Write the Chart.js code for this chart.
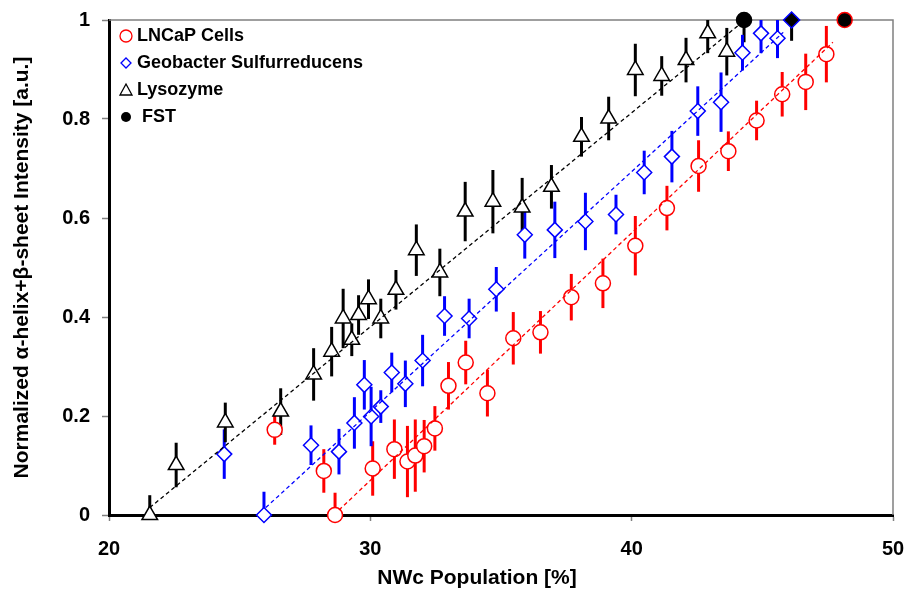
<!DOCTYPE html>
<html lang="en">
<head>
<meta charset="UTF-8">
<title>NWc population vs normalized intensity</title>
<script src="https://cdn.jsdelivr.net/npm/chart.js@4.4.1/dist/chart.umd.min.js"></script>
<style>
  body { margin: 0; background: #fff; }
</style>
</head>
<body>
<canvas id="chart" width="907" height="589"></canvas>
<script>
// values
const lncapX = [26.34, 28.22, 28.65, 30.09, 30.92, 31.42, 31.72, 32.06, 32.47, 32.99, 33.65, 34.48,
                35.47, 36.51, 37.69, 38.9, 40.14, 41.35, 42.56, 43.7, 44.78, 45.76, 46.66, 47.45];
const lncapY = [0.172, 0.089, 0, 0.094, 0.133, 0.108, 0.12, 0.139, 0.175, 0.261, 0.308, 0.246,
                0.357, 0.369, 0.44, 0.468, 0.544, 0.62, 0.705, 0.735, 0.797, 0.85, 0.875, 0.931];
const lncapErr = [0.03, 0.044, 0.045, 0.055, 0.06, 0.072, 0.073, 0.053, 0.045, 0.048, 0.044, 0.047,
                  0.053, 0.043, 0.047, 0.05, 0.06, 0.045, 0.052, 0.04, 0.04, 0.045, 0.057, 0.057];

const geoX = [24.41, 25.93, 27.73, 28.8, 29.39, 29.77, 30.03, 30.4, 30.82, 31.34, 32.0, 32.84, 33.78,
              34.82, 35.91, 37.06, 38.23, 39.4, 40.48, 41.54, 42.53, 43.42, 44.24, 44.95, 45.58];
const geoY = [0.123, 0, 0.141, 0.128, 0.186, 0.263, 0.199, 0.219, 0.288, 0.265, 0.312, 0.402, 0.397,
              0.456, 0.566, 0.576, 0.593, 0.607, 0.692, 0.724, 0.816, 0.834, 0.934, 0.973, 0.963];
const geoErr = [0.05, 0.047, 0.04, 0.046, 0.052, 0.05, 0.06, 0.033, 0.04, 0.047, 0.052, 0.04, 0.04,
                0.045, 0.048, 0.057, 0.058, 0.04, 0.044, 0.052, 0.05, 0.06, 0.036, 0.04, 0.04];

const lysoX = [21.56, 22.57, 24.45, 26.57, 27.83, 28.52, 28.96, 29.29, 29.55, 29.93, 30.4, 30.98, 31.76,
               32.66, 33.63, 34.69, 35.81, 36.93, 38.08, 39.12, 40.14, 41.15, 42.08, 42.91, 43.64];
const lysoY = [0, 0.101, 0.187, 0.209, 0.284, 0.33, 0.397, 0.354, 0.404, 0.436, 0.397, 0.455, 0.535,
               0.49, 0.613, 0.633, 0.621, 0.663, 0.764, 0.801, 0.899, 0.887, 0.919, 0.973, 0.936];
const lysoErr = [0.04, 0.045, 0.04, 0.047, 0.053, 0.05, 0.06, 0.033, 0.04, 0.04, 0.04, 0.04, 0.052,
                 0.048, 0.06, 0.064, 0.06, 0.044, 0.04, 0.044, 0.053, 0.04, 0.045, 0.04, 0.048];

// FST points: lysozyme, geobacter, LNCaP
const fstX = [44.3, 46.12, 48.15];
const fstY = [1, 1, 1];
const fstErr = [0.045, 0.042, 0];

// dashed fit lines (start, end)
const lysoFitX = [21.56, 44.1];
const lysoFitY = [0.015, 0.99];
const geoFitX = [26.0, 45.8];
const geoFitY = [0.015, 0.975];
const lncapFitX = [28.8, 47.7];
const lncapFitY = [0.01, 0.955];

const xTicks = [20, 30, 40, 50];
const yTicks = [0, 0.2, 0.4, 0.6, 0.8, 1];

const xTitle = 'NWc Population [%]';
const yTitle = 'Normalized \u03b1-helix+\u03b2-sheet Intensity [a.u.]';

const FONT = "'Liberation Sans', Arial, sans-serif";

function pts(xs, ys) {
    return xs.map((x, i) => ({x: x, y: ys[i]}));
}

// vertical error bars, drawn under the markers, cut at the plot frame
const errorBars = {
    id: 'errorBars',
    beforeDatasetsDraw(chart) {
        const ctx = chart.ctx;
        const a = chart.chartArea;
        const xs = chart.scales.x, ys = chart.scales.y;
        // grey frame on top and right
        ctx.save();
        ctx.strokeStyle = '#808080';
        ctx.lineWidth = 1.5;
        ctx.beginPath();
        ctx.moveTo(a.left, a.top);
        ctx.lineTo(a.right, a.top);
        ctx.lineTo(a.right, a.bottom);
        ctx.stroke();
        ctx.restore();

        ctx.save();
        ctx.beginPath();
        ctx.rect(a.left, a.top, a.right - a.left, a.bottom - a.top);
        ctx.clip();
        chart.data.datasets.forEach(ds => {
            if (!ds.errors) return;
            ctx.strokeStyle = ds.errColor;
            ctx.lineWidth = 3;
            ds.data.forEach((p, i) => {
                const e = ds.errors[i];
                if (!e) return;
                const px = xs.getPixelForValue(p.x);
                ctx.beginPath();
                ctx.moveTo(px, ys.getPixelForValue(p.y - e));
                ctx.lineTo(px, ys.getPixelForValue(p.y + e));
                ctx.stroke();
            });
        });
        ctx.restore();
    }
};

const legendBox = {
    id: 'legendBox',
    afterDraw(chart) {
        const ctx = chart.ctx;
        const a = chart.chartArea;
        const sx = a.left + 17;
        const rows = [16, 43, 70, 97];
        ctx.save();
        ctx.lineWidth = 1.3;
        // circle
        ctx.strokeStyle = '#ff0000';
        ctx.beginPath();
        ctx.arc(sx, a.top + rows[0], 6, 0, Math.PI * 2);
        ctx.stroke();
        // diamond
        ctx.strokeStyle = '#0000ff';
        ctx.beginPath();
        let y = a.top + rows[1];
        ctx.moveTo(sx - 5, y); ctx.lineTo(sx, y - 5); ctx.lineTo(sx + 5, y); ctx.lineTo(sx, y + 5);
        ctx.closePath();
        ctx.stroke();
        // triangle
        ctx.strokeStyle = '#000';
        y = a.top + rows[2];
        ctx.beginPath();
        ctx.moveTo(sx, y - 6); ctx.lineTo(sx + 6, y + 5); ctx.lineTo(sx - 6, y + 5);
        ctx.closePath();
        ctx.stroke();
        // filled circle
        ctx.fillStyle = '#000';
        ctx.beginPath();
        ctx.arc(sx, a.top + rows[3], 5, 0, Math.PI * 2);
        ctx.fill();

        ctx.font = 'bold 18px ' + FONT;
        ctx.textBaseline = 'middle';
        ctx.fillStyle = '#000';
        ctx.fillText('LNCaP Cells', sx + 11, a.top + rows[0]);
        ctx.fillText('Geobacter Sulfurreducens', sx + 11, a.top + rows[1]);
        ctx.fillText('Lysozyme', sx + 11, a.top + rows[2]);
        ctx.fillText('FST', sx + 16, a.top + rows[3]);

        // x axis title sits a bit left of the plot centre in the original
        ctx.font = 'bold 21px ' + FONT;
        ctx.textAlign = 'center';
        ctx.fillText(xTitle, (a.left + a.right) / 2 - 24, 578);
        ctx.restore();
    }
};

const markerBase = {pointBorderWidth: 1.5, pointBackgroundColor: '#fff', showLine: false, clip: false, order: 1};
const fitBase = {showLine: true, pointRadius: 0, borderWidth: 1.3, borderDash: [4, 3], tension: 0, order: 0, fill: false};

new Chart(document.getElementById('chart'), {
    type: 'scatter',
    data: {
        datasets: [
            Object.assign({label: 'LNCaP fit', data: pts(lncapFitX, lncapFitY), borderColor: '#ff0000'}, fitBase),
            Object.assign({label: 'Geobacter fit', data: pts(geoFitX, geoFitY), borderColor: '#0000ff'}, fitBase),
            Object.assign({label: 'Lysozyme fit', data: pts(lysoFitX, lysoFitY), borderColor: '#000'}, fitBase),
            Object.assign({}, markerBase, {
                label: 'FST', data: pts(fstX, fstY), errors: fstErr, errColor: '#000',
                pointStyle: ['circle', 'rectRot', 'circle'], pointRadius: [7.5, 8, 7.5],
                pointBackgroundColor: '#000', pointBorderColor: ['#000', '#0000ff', '#ff0000'], order: 0
            }),
            Object.assign({}, markerBase, {
                label: 'LNCaP Cells', data: pts(lncapX, lncapY), errors: lncapErr, errColor: '#ff0000',
                pointStyle: 'circle', pointRadius: 7.5, pointBorderColor: '#ff0000'
            }),
            Object.assign({}, markerBase, {
                label: 'Geobacter Sulfurreducens', data: pts(geoX, geoY), errors: geoErr, errColor: '#0000ff',
                pointStyle: 'rectRot', pointRadius: 7.5, pointBorderColor: '#0000ff'
            }),
            Object.assign({}, markerBase, {
                label: 'Lysozyme', data: pts(lysoX, lysoY), errors: lysoErr, errColor: '#000',
                pointStyle: 'triangle', pointRadius: 9, pointBorderColor: '#000'
            })
        ]
    },
    options: {
        responsive: false,
        animation: false,
        events: [],
        layout: {padding: {top: 20, right: 14, bottom: 0, left: 0}},
        plugins: {legend: {display: false}, tooltip: {enabled: false}},
        scales: {
            x: {
                type: 'linear', min: 20, max: 50,
                afterBuildTicks: s => { s.ticks = xTicks.map(v => ({value: v})); },
                afterFit: s => { s.height = 74; s.paddingLeft = 0; s.paddingRight = 0; },
                ticks: {color: '#000', padding: 16, font: {family: FONT, size: 20, weight: 'bold'},
                        callback: v => String(v)},
                grid: {drawOnChartArea: false, tickLength: 6, tickColor: '#808080', tickWidth: 1.5},
                border: {color: '#000', width: 3},
                title: {display: false, text: xTitle}
            },
            y: {
                type: 'linear', min: 0, max: 1,
                afterBuildTicks: s => { s.ticks = yTicks.map(v => ({value: v})); },
                afterFit: s => { s.width = 109; s.paddingTop = 0; s.paddingBottom = 0; },
                ticks: {color: '#000', padding: 12, font: {family: FONT, size: 20, weight: 'bold'},
                        callback: v => String(v)},
                grid: {drawOnChartArea: false, tickLength: 7, tickColor: '#808080', tickWidth: 1.5},
                border: {color: '#000', width: 3},
                title: {display: true, text: yTitle, color: '#000',
                        padding: {top: 10, bottom: 0}, font: {family: FONT, size: 21, weight: 'bold'}}
            }
        }
    },
    plugins: [errorBars, legendBox]
});
</script>
</body>
</html>
